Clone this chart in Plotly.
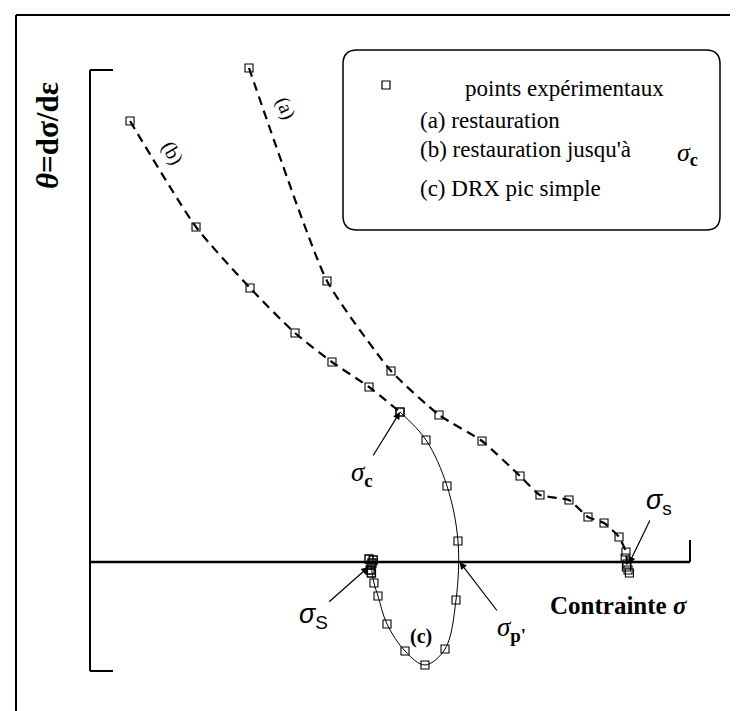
import plotly.graph_objects as go

# ---------------- data (stress sigma, hardening rate theta; arbitrary units) -------------
# (b) restauration jusqu'à sigma_c  (dashed)
b_sigma = [6.67, 17.67, 26.67, 34.17, 40.33, 46.5, 51.67]
b_theta = [88.2, 67.0, 54.8, 45.8, 40.0, 35.0, 30.0]

# (a) restauration (dashed)
a_sigma = [26.5, 39.5, 50.17, 58.17, 65.33, 71.67, 75.0, 79.83, 83.0, 85.67, 88.17, 89.33, 89.5, 89.67]
a_theta = [98.8, 56.2, 38.2, 29.4, 24.2, 17.2, 13.4, 12.4, 9.0, 7.8, 5.0, 2.0, -0.4, -1.6]
a_end_sigma = [89.2, 89.9, 89.4]
a_end_theta = [0.8, -2.2, -1.0]

# (c) DRX pic simple (solid), from sigma_c through sigma_p to sigma_s
c_sigma = [51.67, 56.0, 59.5, 61.33, 61.0, 59.17, 55.83, 52.5, 49.5, 48.0, 47.33, 46.83]
c_theta = [30.0, 24.4, 15.2, 4.2, -7.6, -17.4, -20.6, -17.8, -12.4, -6.8, -4.2, -0.6]
c_end_sigma = [46.5, 47.0, 46.7, 47.2, 46.9]
c_end_theta = [0.6, -0.2, -1.6, 0.4, -2.2]

# characteristic stresses
sigma_c = (51.67, 30.0)
sigma_p = (61.6, 0.0)
sigma_s_left = (46.4, -1.0)
sigma_s_right = (89.8, -0.4)

# axis extents
x_axis_end = 100.0
y_axis_top = 98.4
y_axis_bottom = -21.8

# ---------------- figure geometry ----------------
W, H = 738, 711
PX_X, PX_Y = 6.0, 5.0      # pixels per unit
X0_PX, Y0_PX = 82.0, 554.0  # pixel position of origin
xr = [-X0_PX / PX_X, (W - X0_PX) / PX_X]
yr = [(Y0_PX - H) / PX_Y, Y0_PX / PX_Y]


def px(x):
    return x / W


def py(y):
    return 1 - y / H


SERIF = "Liberation Serif, Times New Roman, DejaVu Serif, serif"
SANS = "Liberation Sans, Arial, sans-serif"
fig = go.Figure()

MK = dict(symbol="square-open", size=8, color="black", line=dict(width=1.1))
fig.add_trace(go.Scatter(x=b_sigma, y=b_theta, mode="lines+markers",
                         line=dict(color="black", width=2.2, dash="9px,6px", shape="spline", smoothing=0.6),
                         marker=MK, showlegend=False))
fig.add_trace(go.Scatter(x=a_sigma, y=a_theta, mode="lines+markers",
                         line=dict(color="black", width=2.2, dash="9px,6px", shape="spline", smoothing=0.5),
                         marker=MK, showlegend=False))
fig.add_trace(go.Scatter(x=a_end_sigma, y=a_end_theta, mode="markers", marker=MK, showlegend=False))
fig.add_trace(go.Scatter(x=c_sigma, y=c_theta, mode="lines+markers",
                         line=dict(color="black", width=1, shape="spline", smoothing=1.0),
                         marker=MK, showlegend=False))
fig.add_trace(go.Scatter(x=c_end_sigma, y=c_end_theta, mode="markers",
                         marker=dict(symbol="square-open", size=8, color="black", line=dict(width=1.4)),
                         showlegend=False))

shapes = []
# outer frame (left + top)
shapes.append(dict(type="line", xref="paper", yref="paper", x0=px(8), x1=px(8), y0=py(7), y1=py(708),
                   line=dict(color="black", width=2)))
shapes.append(dict(type="line", xref="paper", yref="paper", x0=px(8), x1=1.0, y0=py(7), y1=py(7),
                   line=dict(color="black", width=2)))
shapes.append(dict(type="line", xref="paper", yref="paper", x0=px(8), x1=px(100), y0=py(708), y1=py(708),
                   line=dict(color="#bbbbbb", width=1)))
# axes
tick = 23 / PX_X
shapes.append(dict(type="line", xref="x", yref="y", x0=0, x1=0, y0=y_axis_bottom, y1=y_axis_top,
                   line=dict(color="black", width=2)))
shapes.append(dict(type="line", xref="x", yref="y", x0=0, x1=tick, y0=y_axis_top, y1=y_axis_top,
                   line=dict(color="black", width=2)))
shapes.append(dict(type="line", xref="x", yref="y", x0=0, x1=tick, y0=y_axis_bottom, y1=y_axis_bottom,
                   line=dict(color="black", width=2)))
shapes.append(dict(type="line", xref="x", yref="y", x0=0, x1=x_axis_end, y0=0, y1=0,
                   line=dict(color="black", width=2.5)))
shapes.append(dict(type="line", xref="x", yref="y", x0=x_axis_end, x1=x_axis_end, y0=0, y1=22 / PX_Y,
                   line=dict(color="black", width=2)))

# legend box (rounded rectangle)
L, T, R, B, r = 335, 42, 712, 222, 14
path = (f"M {px(L + r)},{py(T)} L {px(R - r)},{py(T)} Q {px(R)},{py(T)} {px(R)},{py(T + r)} "
        f"L {px(R)},{py(B - r)} Q {px(R)},{py(B)} {px(R - r)},{py(B)} "
        f"L {px(L + r)},{py(B)} Q {px(L)},{py(B)} {px(L)},{py(B - r)} "
        f"L {px(L)},{py(T + r)} Q {px(L)},{py(T)} {px(L + r)},{py(T)} Z")
shapes.append(dict(type="path", xref="paper", yref="paper", path=path,
                   line=dict(color="black", width=1.5)))
# legend square symbol
shapes.append(dict(type="rect", xref="paper", yref="paper", x0=px(374), x1=px(382), y0=py(81), y1=py(73),
                   line=dict(color="black", width=1.2)))

annotations = []


def text(x, y, s, size=23, xref="x", yref="y", xanchor="center", angle=0, family=SERIF):
    annotations.append(dict(x=x, y=y, xref=xref, yref=yref, text=s, showarrow=False,
                            xanchor=xanchor, yanchor="middle", textangle=angle,
                            font=dict(family=family, size=size, color="black")))


def label_arrow(head, label_pos, s, size=27, family=SERIF):
    annotations.append(dict(x=head[0], y=head[1], ax=label_pos[0], ay=label_pos[1], xref="x", yref="y",
                            axref="x", ayref="y", text=s, showarrow=True, arrowhead=2,
                            arrowsize=1.2, arrowwidth=1.2, arrowcolor="black", standoff=0,
                            font=dict(family=family, size=size, color="black")))


# legend text
text(px(455), py(80), "points expérimentaux", xref="paper", yref="paper", xanchor="left")
text(px(410), py(112), "(a) restauration", xref="paper", yref="paper", xanchor="left")
text(px(410), py(141), "(b) restauration jusqu'à", xref="paper", yref="paper", xanchor="left")
text(px(679), py(146), "<i>σ</i><sub><b>c</b></sub>", size=26, xref="paper", yref="paper")
text(px(410), py(180), "(c) DRX pic simple", xref="paper", yref="paper", xanchor="left")

# y-axis title
text(px(40), py(128), "<b><i>θ</i>=dσ/dε</b>", size=31, xref="paper", yref="paper", angle=-90)
# x-axis title
text(88.2, -8.6, "<b>Contrainte <i>σ</i></b>", size=25)

# curve labels
text(32.67, 90.8, "(a)", size=20, angle=68)
text(13.83, 81.8, "(b)", size=20, angle=60)
text(55.17, -14.8, "<b>(c)</b>", size=20)

# characteristic stress labels with arrows
label_arrow(sigma_c, (45.3, 17.6), "<i>σ</i><sub><b>c</b></sub>")
label_arrow(sigma_s_right, (94.8, 12.0), "<i>σ</i><sub>s</sub>", family=SANS)
label_arrow(sigma_s_left, (37.2, -10.8), "<i>σ</i><sub>S</sub>", family=SANS)
label_arrow(sigma_p, (70.2, -13.4), "<i>σ</i><sub><b>p'</b></sub>")

fig.update_layout(
    width=W, height=H,
    margin=dict(l=0, r=0, t=0, b=0),
    paper_bgcolor="white", plot_bgcolor="white",
    xaxis=dict(range=xr, visible=False, fixedrange=True),
    yaxis=dict(range=yr, visible=False, fixedrange=True),
    shapes=shapes, annotations=annotations,
    showlegend=False,
)

fig.write_html("out.html")
